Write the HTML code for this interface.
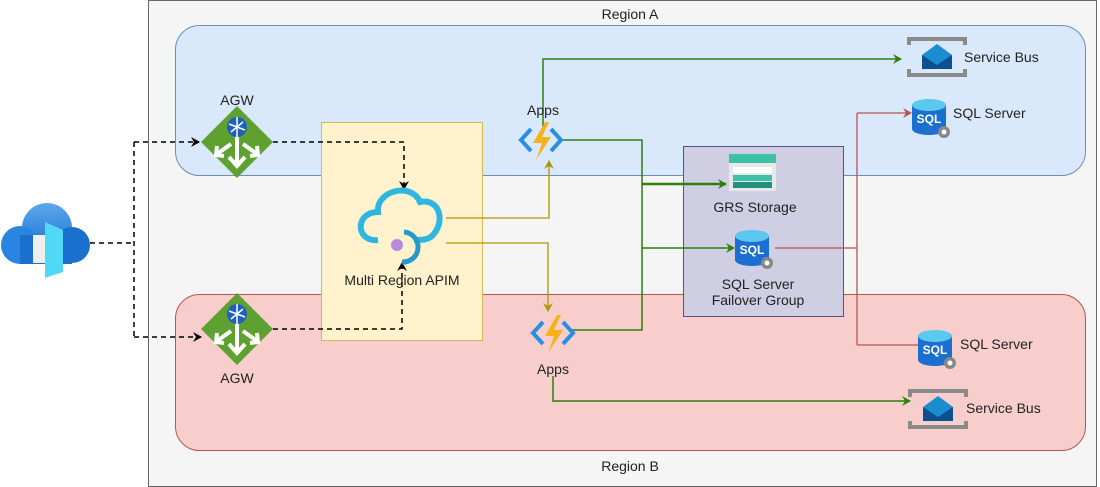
<!DOCTYPE html>
<html><head><meta charset="utf-8">
<style>
html,body{margin:0;padding:0;background:#fff;}
svg{display:block;}
text{font-family:"Liberation Sans",Arial,sans-serif;font-size:14px;fill:#222;}
</style></head>
<body>
<svg width="1100" height="487" viewBox="0 0 1100 487" xmlns="http://www.w3.org/2000/svg">
<defs>
<marker id="ab" markerWidth="10" markerHeight="10" refX="8" refY="5" orient="auto" markerUnits="userSpaceOnUse"><path d="M0,0 L9,5 L0,10 L3,5 Z" fill="#000"/></marker>
<marker id="ag" markerWidth="10" markerHeight="10" refX="8" refY="5" orient="auto" markerUnits="userSpaceOnUse"><path d="M0,0 L9,5 L0,10 L3,5 Z" fill="#2d7f0e"/></marker>
<marker id="ay" markerWidth="10" markerHeight="10" refX="8" refY="5" orient="auto" markerUnits="userSpaceOnUse"><path d="M0,0 L9,5 L0,10 L3,5 Z" fill="#b09500"/></marker>
<marker id="ar" markerWidth="10" markerHeight="10" refX="8" refY="5" orient="auto" markerUnits="userSpaceOnUse"><path d="M0,0 L9,5 L0,10 L3,5 Z" fill="#b85450"/></marker>
<linearGradient id="cl" x1="0" y1="0" x2="0" y2="1"><stop offset="0" stop-color="#5ea7ee"/><stop offset="1" stop-color="#1a6fcf"/></linearGradient>
<g id="agw">
<path d="M0,-36 L36,0 L0,36 L-36,0 Z" fill="#5ea130"/>
<path d="M0,-8 L0,22 M-8,15 L0,24 L8,15 M-6,2 L-20,12 M-20,4 L-21,13 L-13,14 M6,2 L20,12 M20,4 L21,13 L13,14" stroke="#fff" stroke-width="4" fill="none"/>
<circle cx="0" cy="-15" r="10" fill="#1f5fbf"/>
<path d="M-8,-18 L8,-12 M-6,-10 L6,-20 M0,-25 L0,-5" stroke="#fff" stroke-width="1.5"/>
</g>
<g id="fn">
<path d="M-10,-11 L-20,0 L-10,11" stroke="#2a8fe0" stroke-width="4" fill="none"/>
<path d="M10,-11 L20,0 L10,11" stroke="#2a8fe0" stroke-width="4" fill="none"/>
<path d="M4,-18 L-8,3 L1,3 L-5,20 L10,-3 L1,-3 L8,-18 Z" fill="#f7b21b"/>
</g>
<g id="sql">
<path d="M-17,-10 L-17,14 A17,6 0 0 0 17,14 L17,-10 Z" fill="#1a6fcf"/>
<ellipse cx="0" cy="-10" rx="17" ry="6" fill="#5bc8f0"/>
<text x="0" y="8" text-anchor="middle" style="font-size:12px;font-weight:bold;fill:#fff">SQL</text>
<circle cx="15" cy="17" r="6" fill="#888"/><circle cx="15" cy="17" r="2.5" fill="#fff"/>
</g>
<g id="sb">
<path d="M-28,-12 L-28,-18 L28,-18 L28,-12 M-28,12 L-28,18 L28,18 L28,12" stroke="#8a8a8a" stroke-width="4" fill="none"/>
<path d="M-15,-2 L0,-13 L15,-2 L15,12 L-15,12 Z" fill="#1a8ccf"/>
<path d="M-15,-2 L0,8 L15,-2 L15,12 L-15,12 Z" fill="#0d4f8f"/>
</g>
</defs>

<rect x="148.5" y="0.5" width="948" height="486" fill="#f5f5f5" stroke="#666"/>
<rect x="175.5" y="25.5" width="910" height="150" rx="24" fill="#dae8fc" stroke="#6c8ebf"/>
<rect x="175.5" y="294.5" width="910" height="156" rx="24" fill="#f8cecc" stroke="#b85450"/>
<rect x="321.5" y="122.5" width="161" height="218" fill="#fff2cc" stroke="#d6b656"/>
<rect x="683.5" y="146.5" width="160" height="170" fill="#d0cee2" stroke="#56517e"/>

<text x="630" y="19" text-anchor="middle">Region A</text>
<text x="630" y="471" text-anchor="middle">Region B</text>

<g stroke="#000" stroke-width="1.5" stroke-dasharray="5,4" fill="none">
<path d="M90,243 L134,243"/>
<path d="M134,142 L134,337"/>
<path d="M134,142 L199,142" marker-end="url(#ab)"/>
<path d="M134,337 L201,337" marker-end="url(#ab)"/>
<path d="M273,142 L404,142 L404,189" marker-end="url(#ab)"/>
<path d="M273,329 L402,329 L402,263" marker-end="url(#ab)"/>
</g>

<g stroke="#b09500" stroke-width="1.3" fill="none">
<path d="M446,218 L549,218 L549,161" marker-end="url(#ay)"/>
<path d="M446,243 L548,243 L548,311" marker-end="url(#ay)"/>
</g>

<g stroke="#2d7f0e" stroke-width="1.5" fill="none">
<path d="M543,130 L543,59 L901,59" marker-end="url(#ag)"/>
<path d="M560,140 L642,140 L642,330 L568,330"/>
<path d="M642,184 L726,184" stroke-width="2.5" marker-end="url(#ag)"/>
<path d="M642,248 L734,248" marker-end="url(#ag)"/>
<path d="M553,376 L553,401 L910,401" marker-end="url(#ag)"/>
</g>

<g stroke="#b85450" stroke-width="1.3" fill="none">
<path d="M775,248 L857,248"/>
<path d="M857,113 L857,345"/>
<path d="M857,113 L911,113" marker-end="url(#ar)"/>
<path d="M857,345 L927,345" marker-end="url(#ar)"/>
</g>

<g>
<circle cx="47" cy="228" r="25" fill="url(#cl)"/>
<circle cx="20" cy="245" r="19" fill="#2a85e0"/>
<circle cx="72" cy="245" r="18" fill="#1a6fcf"/>
<rect x="20" y="235" width="52" height="29" fill="#1a6fcf"/>
<rect x="33" y="235" width="12" height="28" fill="#eee"/>
<path d="M45,222 L63,230 L63,272 L45,278 Z" fill="#50d8f5"/>
</g>

<use href="#agw" x="237" y="142"/>
<use href="#agw" x="237" y="329"/>
<text x="237" y="105" text-anchor="middle">AGW</text>
<text x="237" y="383" text-anchor="middle">AGW</text>

<g fill="none" stroke="#2cb6e0" stroke-width="6">
<path d="M378,240 C355,242 355,212 378,212 C376,190 412,182 420,202 C440,198 446,222 432,236 C428,240 420,240 414,240"/>
</g>
<path d="M404,232 A14,14 0 0 1 402,262" stroke="#2799c8" stroke-width="5" fill="none"/>
<circle cx="397" cy="245" r="6" fill="#b58be0"/>
<text x="402" y="285" text-anchor="middle">Multi Region APIM</text>

<use href="#fn" x="541" y="140"/>
<text x="543" y="115" text-anchor="middle">Apps</text>
<use href="#fn" x="553" y="333"/>
<text x="553" y="374" text-anchor="middle">Apps</text>

<rect x="729" y="154" width="47" height="9" fill="#3cc1a8"/>
<rect x="729" y="163" width="47" height="28" fill="#e8e8e8"/>
<rect x="733" y="167" width="39" height="6" fill="#fff"/>
<rect x="733" y="175" width="39" height="6" fill="#3cc1a8"/>
<rect x="733" y="182" width="39" height="6" fill="#218f7c"/>
<text x="755" y="212" text-anchor="middle">GRS Storage</text>

<use href="#sql" x="752" y="246"/>
<text x="758" y="289" text-anchor="middle">SQL Server</text>
<text x="758" y="305" text-anchor="middle">Failover Group</text>

<use href="#sql" x="929" y="115"/>
<text x="953" y="118">SQL Server</text>
<use href="#sql" x="935" y="346"/>
<text x="960" y="349">SQL Server</text>

<use href="#sb" x="937" y="57"/>
<text x="964" y="62">Service Bus</text>
<use href="#sb" x="938" y="409"/>
<text x="966" y="413">Service Bus</text>
</svg>
</body></html>
